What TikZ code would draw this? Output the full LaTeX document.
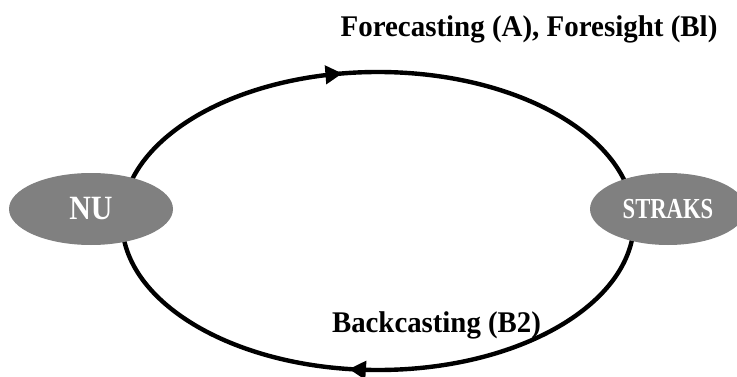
\documentclass[tikz,border=0pt]{standalone}
\usepackage{fontspec}
\setmainfont{Liberation Serif}
\usetikzlibrary{arrows.meta,decorations.markings,shapes.geometric}
\begin{document}
\begin{tikzpicture}[x=1pt,y=1pt,
  blob/.style={ellipse,fill=black!50,draw=none,inner sep=0pt,text=white,font=\bfseries},
  flowline/.style={line width=4.4pt,black},
  lbl/.style={anchor=base,inner sep=0pt,font=\bfseries\fontsize{30pt}{31pt}\selectfont}]
\useasboundingbox (0,0) rectangle (737,376);
\clip (0,0) rectangle (737,376);
\coordinate (c) at (378,155);
% cycle arcs
\draw[flowline,postaction={decorate},decoration={markings,mark=at position 0.445 with {\arrow{Triangle[length=17pt,width=18pt]}}}]
  ([shift={(180:256 and 149)}]c) arc[start angle=180,end angle=0,x radius=256,y radius=149];
\draw[flowline,postaction={decorate},decoration={markings,mark=at position 0.545 with {\arrow{Triangle[length=17pt,width=18pt]}}}]
  ([shift={(0:256 and 149)}]c) arc[start angle=0,end angle=-180,x radius=256,y radius=149];
% nodes
\node[blob,minimum width=164pt,minimum height=72pt] (NU) at (91,167)
  {\scalebox{0.88}[1]{\fontsize{34pt}{35pt}\selectfont NU}};
\node[blob,minimum width=156pt,minimum height=72pt] (STRAKS) at (668,167)
  {\scalebox{0.78}[1]{\fontsize{29pt}{30pt}\selectfont STRAKS}};
% labels
\node[lbl] (top) at (529,340) {\scalebox{0.965}[1]{Forecasting (A), Foresight (Bl)}};
\node[lbl] (bot) at (436.5,44) {\scalebox{0.96}[1]{Backcasting (B2)}};
\end{tikzpicture}
\end{document}
